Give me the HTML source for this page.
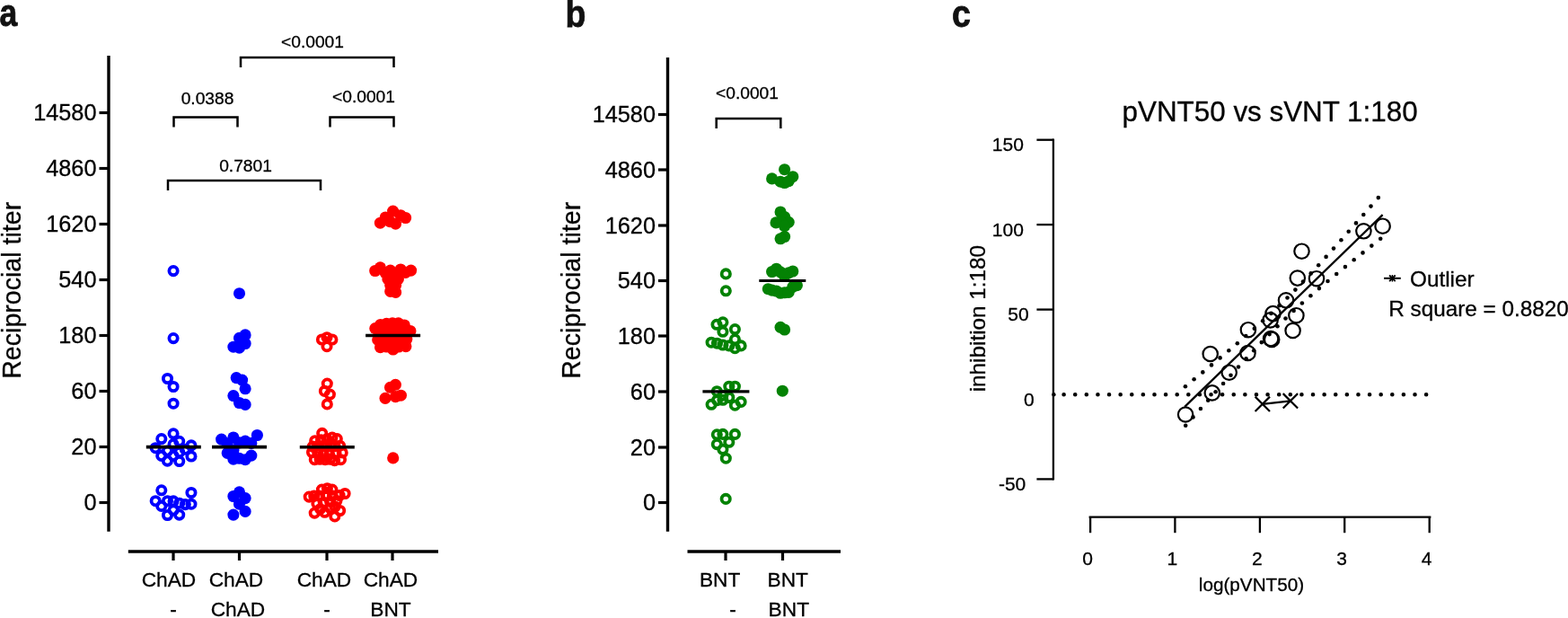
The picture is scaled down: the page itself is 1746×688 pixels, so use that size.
<!DOCTYPE html>
<html lang="en">
<head>
<meta charset="utf-8">
<title>Figure: reciprocal titers and pVNT50 vs sVNT correlation</title>
<style>
html,body{margin:0;padding:0;background:#fff;}
body{width:1746px;height:688px;overflow:hidden;}
svg{display:block;font-family:'Liberation Sans', Arial, Helvetica, sans-serif;}
text{stroke:#000;stroke-width:0.3px;}
.lbl{fill:#111;stroke:#111;stroke-width:0.7px;}

</style>
</head>
<body>
<svg width="1746" height="688" viewBox="0 0 1746 688">
<rect width="1746" height="688" fill="#fff"/>
<g id="panel-a">
<text transform="translate(-0.4,29.3) scale(1,1.2)" font-size="35.5" font-weight="bold" class="lbl">a</text>
<line x1="121" y1="62" x2="121" y2="591.8" stroke="#000" stroke-width="3.4" />
<line x1="110.5" y1="125.5" x2="121" y2="125.5" stroke="#000" stroke-width="3.2" />
<text x="107.5" y="134.1" font-size="25.3" text-anchor="end" font-weight="normal" >14580</text>
<line x1="110.5" y1="187.5" x2="121" y2="187.5" stroke="#000" stroke-width="3.2" />
<text x="107.5" y="196.1" font-size="25.3" text-anchor="end" font-weight="normal" >4860</text>
<line x1="110.5" y1="249.5" x2="121" y2="249.5" stroke="#000" stroke-width="3.2" />
<text x="107.5" y="258.1" font-size="25.3" text-anchor="end" font-weight="normal" >1620</text>
<line x1="110.5" y1="311.5" x2="121" y2="311.5" stroke="#000" stroke-width="3.2" />
<text x="107.5" y="320.1" font-size="25.3" text-anchor="end" font-weight="normal" >540</text>
<line x1="110.5" y1="373.5" x2="121" y2="373.5" stroke="#000" stroke-width="3.2" />
<text x="107.5" y="382.1" font-size="25.3" text-anchor="end" font-weight="normal" >180</text>
<line x1="110.5" y1="435.5" x2="121" y2="435.5" stroke="#000" stroke-width="3.2" />
<text x="107.5" y="444.1" font-size="25.3" text-anchor="end" font-weight="normal" >60</text>
<line x1="110.5" y1="497.5" x2="121" y2="497.5" stroke="#000" stroke-width="3.2" />
<text x="107.5" y="506.1" font-size="25.3" text-anchor="end" font-weight="normal" >20</text>
<line x1="110.5" y1="559.5" x2="121" y2="559.5" stroke="#000" stroke-width="3.2" />
<text x="107.5" y="568.1" font-size="25.3" text-anchor="end" font-weight="normal" >0</text>
<text transform="translate(23.2,323.3) rotate(-90)" font-size="28.6" text-anchor="middle">Reciprocial titer</text>
<line x1="142.8" y1="613.9" x2="488" y2="613.9" stroke="#000" stroke-width="3.5" />
<line x1="193" y1="613.9" x2="193" y2="624" stroke="#000" stroke-width="3.2" />
<line x1="266.5" y1="613.9" x2="266.5" y2="624" stroke="#000" stroke-width="3.2" />
<line x1="364" y1="613.9" x2="364" y2="624" stroke="#000" stroke-width="3.2" />
<line x1="437" y1="613.9" x2="437" y2="624" stroke="#000" stroke-width="3.2" />
<text x="188" y="652.6" font-size="22.7" text-anchor="middle" font-weight="normal" >ChAD</text>
<text x="263" y="652.6" font-size="22.7" text-anchor="middle" font-weight="normal" >ChAD</text>
<text x="361" y="652.6" font-size="22.7" text-anchor="middle" font-weight="normal" >ChAD</text>
<text x="435" y="652.6" font-size="22.7" text-anchor="middle" font-weight="normal" >ChAD</text>
<text x="193" y="686.4" font-size="22.7" text-anchor="middle" font-weight="normal" >-</text>
<text x="265" y="686.4" font-size="22.7" text-anchor="middle" font-weight="normal" >ChAD</text>
<text x="364" y="686.4" font-size="22.7" text-anchor="middle" font-weight="normal" >-</text>
<text x="435" y="686.4" font-size="22.7" text-anchor="middle" font-weight="normal" >BNT</text>
<path d="M268 75V64H438.5V75" fill="none" stroke="#000" stroke-width="2.5" stroke-linejoin="miter"/>
<text x="348" y="53.1" font-size="19.2" text-anchor="middle" font-weight="normal" >&lt;0.0001</text>
<path d="M193.5 141.5V130.5H264.5V141.5" fill="none" stroke="#000" stroke-width="2.5" stroke-linejoin="miter"/>
<text x="231" y="116.3" font-size="19.2" text-anchor="middle" font-weight="normal" >0.0388</text>
<path d="M367.5 141.5V130.5H438.5V141.5" fill="none" stroke="#000" stroke-width="2.5" stroke-linejoin="miter"/>
<text x="405" y="114.1" font-size="19.2" text-anchor="middle" font-weight="normal" >&lt;0.0001</text>
<path d="M187 212V201H357V212" fill="none" stroke="#000" stroke-width="2.5" stroke-linejoin="miter"/>
<text x="273.5" y="190.5" font-size="19.2" text-anchor="middle" font-weight="normal" >0.7801</text>
<g fill="none" stroke="#0000ff" stroke-width="3.8">
<circle cx="193.07" cy="301.6" r="4.65"/>
<circle cx="193.07" cy="376.6" r="4.65"/>
<circle cx="186.5" cy="421.5" r="4.65"/>
<circle cx="193.07" cy="430.5" r="4.65"/>
<circle cx="193.07" cy="449.2" r="4.65"/>
<circle cx="193.07" cy="482.8" r="4.65"/>
<circle cx="179.8" cy="488.6" r="4.65"/>
<circle cx="199.7" cy="491.3" r="4.65"/>
<circle cx="193.07" cy="494.6" r="4.65"/>
<circle cx="212.95" cy="495.9" r="4.65"/>
<circle cx="173.2" cy="498.7" r="4.65"/>
<circle cx="206.3" cy="500.2" r="4.65"/>
<circle cx="186.4" cy="502.1" r="4.65"/>
<circle cx="199.7" cy="503.4" r="4.65"/>
<circle cx="179.8" cy="507.4" r="4.65"/>
<circle cx="193.07" cy="507.4" r="4.65"/>
<circle cx="212.95" cy="508" r="4.65"/>
<circle cx="186.4" cy="513.1" r="4.65"/>
<circle cx="199.7" cy="513.5" r="4.65"/>
<circle cx="179.8" cy="545.8" r="4.65"/>
<circle cx="212.95" cy="548.5" r="4.65"/>
<circle cx="173.2" cy="557.7" r="4.65"/>
<circle cx="186.5" cy="557.7" r="4.65"/>
<circle cx="193.07" cy="557.9" r="4.65"/>
<circle cx="199.7" cy="560.2" r="4.65"/>
<circle cx="206.3" cy="561.6" r="4.65"/>
<circle cx="212.95" cy="561.2" r="4.65"/>
<circle cx="179.8" cy="563.4" r="4.65"/>
<circle cx="193.07" cy="568" r="4.65"/>
<circle cx="186.5" cy="573.5" r="4.65"/>
<circle cx="199.7" cy="573.1" r="4.65"/>
</g>
<g fill="#0000ff">
<circle cx="266.5" cy="326.7" r="6.55"/>
<circle cx="273.1" cy="372.9" r="6.55"/>
<circle cx="266.5" cy="376.4" r="6.55"/>
<circle cx="273.1" cy="382.5" r="6.55"/>
<circle cx="259.9" cy="386.2" r="6.55"/>
<circle cx="266.5" cy="387.1" r="6.55"/>
<circle cx="263.2" cy="420.6" r="6.55"/>
<circle cx="269.6" cy="423.1" r="6.55"/>
<circle cx="273.1" cy="432.8" r="6.55"/>
<circle cx="259.9" cy="440.6" r="6.55"/>
<circle cx="266.5" cy="448.5" r="6.55"/>
<circle cx="273.1" cy="450.4" r="6.55"/>
<circle cx="286.4" cy="484.5" r="6.55"/>
<circle cx="246.6" cy="489.1" r="6.55"/>
<circle cx="259.9" cy="487" r="6.55"/>
<circle cx="273.1" cy="491.1" r="6.55"/>
<circle cx="266.5" cy="492.9" r="6.55"/>
<circle cx="279.8" cy="493.4" r="6.55"/>
<circle cx="253.2" cy="493.8" r="6.55"/>
<circle cx="253.2" cy="504.4" r="6.55"/>
<circle cx="259.9" cy="501.2" r="6.55"/>
<circle cx="279.8" cy="507.1" r="6.55"/>
<circle cx="259.9" cy="511.2" r="6.55"/>
<circle cx="273.1" cy="511.7" r="6.55"/>
<circle cx="266.5" cy="510.3" r="6.55"/>
<circle cx="266.5" cy="547.9" r="6.55"/>
<circle cx="259.9" cy="552.5" r="6.55"/>
<circle cx="273.1" cy="554.6" r="6.55"/>
<circle cx="266.5" cy="561.2" r="6.55"/>
<circle cx="273.1" cy="569.4" r="6.55"/>
<circle cx="259.9" cy="573.1" r="6.55"/>
</g>
<g fill="none" stroke="#ff0000" stroke-width="3.8">
<circle cx="364" cy="375.7" r="4.65"/>
<circle cx="358.4" cy="378" r="4.65"/>
<circle cx="369.9" cy="378" r="4.65"/>
<circle cx="364" cy="385.7" r="4.65"/>
<circle cx="364.3" cy="427.1" r="4.65"/>
<circle cx="361.4" cy="435.4" r="4.65"/>
<circle cx="367.4" cy="439.1" r="4.65"/>
<circle cx="364.3" cy="449.9" r="4.65"/>
<circle cx="358.7" cy="482.4" r="4.65"/>
<circle cx="369.9" cy="487.1" r="4.65"/>
<circle cx="375.3" cy="488.6" r="4.65"/>
<circle cx="350.7" cy="490.7" r="4.65"/>
<circle cx="357.5" cy="489.7" r="4.65"/>
<circle cx="363.9" cy="488.8" r="4.65"/>
<circle cx="378.5" cy="496.2" r="4.65"/>
<circle cx="348.3" cy="497.1" r="4.65"/>
<circle cx="354.7" cy="496.2" r="4.65"/>
<circle cx="361.2" cy="496.6" r="4.65"/>
<circle cx="367.6" cy="495.2" r="4.65"/>
<circle cx="373.1" cy="496.6" r="4.65"/>
<circle cx="347.5" cy="503.5" r="4.65"/>
<circle cx="381.2" cy="503.9" r="4.65"/>
<circle cx="353.8" cy="504.4" r="4.65"/>
<circle cx="360.2" cy="505.3" r="4.65"/>
<circle cx="366.7" cy="505.8" r="4.65"/>
<circle cx="374" cy="504.4" r="4.65"/>
<circle cx="350.3" cy="511.7" r="4.65"/>
<circle cx="356.1" cy="511.3" r="4.65"/>
<circle cx="362.1" cy="511.7" r="4.65"/>
<circle cx="367.6" cy="511.3" r="4.65"/>
<circle cx="372.6" cy="512.6" r="4.65"/>
<circle cx="379.5" cy="511.7" r="4.65"/>
<circle cx="344.2" cy="553.1" r="4.65"/>
<circle cx="349.7" cy="552" r="4.65"/>
<circle cx="358.4" cy="545.1" r="4.65"/>
<circle cx="364.4" cy="543.7" r="4.65"/>
<circle cx="369.9" cy="545.1" r="4.65"/>
<circle cx="384.1" cy="549.5" r="4.65"/>
<circle cx="378.1" cy="551.5" r="4.65"/>
<circle cx="355.7" cy="552" r="4.65"/>
<circle cx="363" cy="552" r="4.65"/>
<circle cx="370.3" cy="552" r="4.65"/>
<circle cx="352.9" cy="560.7" r="4.65"/>
<circle cx="360.2" cy="559.3" r="4.65"/>
<circle cx="367.6" cy="558.4" r="4.65"/>
<circle cx="374.9" cy="557.5" r="4.65"/>
<circle cx="350.2" cy="571.1" r="4.65"/>
<circle cx="356.6" cy="566.7" r="4.65"/>
<circle cx="361.6" cy="570.3" r="4.65"/>
<circle cx="367.6" cy="565.7" r="4.65"/>
<circle cx="378.6" cy="568.5" r="4.65"/>
<circle cx="372.8" cy="574.9" r="4.65"/>
<circle cx="373" cy="564" r="4.65"/>
</g>
<g fill="#ff0000">
<circle cx="437.6" cy="235.1" r="6.55"/>
<circle cx="429.2" cy="242" r="6.55"/>
<circle cx="446.1" cy="239.7" r="6.55"/>
<circle cx="451.6" cy="242.5" r="6.55"/>
<circle cx="423.4" cy="248.2" r="6.55"/>
<circle cx="434.2" cy="246.6" r="6.55"/>
<circle cx="440.5" cy="249.1" r="6.55"/>
<circle cx="417.7" cy="301.5" r="6.55"/>
<circle cx="423.4" cy="297.9" r="6.55"/>
<circle cx="434.7" cy="301.1" r="6.55"/>
<circle cx="446.1" cy="300" r="6.55"/>
<circle cx="457.6" cy="301.1" r="6.55"/>
<circle cx="451.6" cy="303.4" r="6.55"/>
<circle cx="429.2" cy="303.8" r="6.55"/>
<circle cx="431.9" cy="310.7" r="6.55"/>
<circle cx="443.4" cy="310.7" r="6.55"/>
<circle cx="437.6" cy="307.5" r="6.55"/>
<circle cx="434.7" cy="317.6" r="6.55"/>
<circle cx="440.6" cy="317.6" r="6.55"/>
<circle cx="434.7" cy="324.4" r="6.55"/>
<circle cx="440.6" cy="325.4" r="6.55"/>
<circle cx="437.6" cy="313.9" r="6.55"/>
<circle cx="423.7" cy="361.5" r="6.55"/>
<circle cx="430.4" cy="360.3" r="6.55"/>
<circle cx="437" cy="359.8" r="6.55"/>
<circle cx="443.6" cy="359.8" r="6.55"/>
<circle cx="450.3" cy="362" r="6.55"/>
<circle cx="417.8" cy="365.6" r="6.55"/>
<circle cx="456.9" cy="368.5" r="6.55"/>
<circle cx="423.7" cy="370" r="6.55"/>
<circle cx="430.4" cy="369" r="6.55"/>
<circle cx="437" cy="368" r="6.55"/>
<circle cx="450.3" cy="371" r="6.55"/>
<circle cx="442.5" cy="367.5" r="6.55"/>
<circle cx="420.7" cy="378.4" r="6.55"/>
<circle cx="430.4" cy="378" r="6.55"/>
<circle cx="437" cy="377" r="6.55"/>
<circle cx="443.6" cy="378" r="6.55"/>
<circle cx="452.8" cy="377.5" r="6.55"/>
<circle cx="423.5" cy="386.7" r="6.55"/>
<circle cx="430.4" cy="386" r="6.55"/>
<circle cx="437.7" cy="389" r="6.55"/>
<circle cx="444" cy="386" r="6.55"/>
<circle cx="451.9" cy="385.7" r="6.55"/>
<circle cx="440.4" cy="428.3" r="6.55"/>
<circle cx="434.5" cy="431.3" r="6.55"/>
<circle cx="446.4" cy="440.2" r="6.55"/>
<circle cx="440.4" cy="441.6" r="6.55"/>
<circle cx="429" cy="443.4" r="6.55"/>
<circle cx="437.7" cy="509.9" r="6.55"/>
</g>
<line x1="162.8" y1="497.6" x2="223.8" y2="497.6" stroke="#000" stroke-width="3.6" />
<line x1="236.0" y1="497.6" x2="297.0" y2="497.6" stroke="#000" stroke-width="3.6" />
<line x1="333.8" y1="497.7" x2="394.8" y2="497.7" stroke="#000" stroke-width="3.6" />
<line x1="407.1" y1="373.5" x2="468.1" y2="373.5" stroke="#000" stroke-width="3.6" />
</g>
<g id="panel-b">
<text transform="translate(629.6,29.8) scale(1,1.11)" font-size="37.5" font-weight="bold" class="lbl">b</text>
<line x1="743.5" y1="64" x2="743.5" y2="591.8" stroke="#000" stroke-width="3.4" />
<line x1="733.0" y1="127.5" x2="743.5" y2="127.5" stroke="#000" stroke-width="3.2" />
<text x="730.0" y="136.1" font-size="25.3" text-anchor="end" font-weight="normal" >14580</text>
<line x1="733.0" y1="189" x2="743.5" y2="189" stroke="#000" stroke-width="3.2" />
<text x="730.0" y="197.6" font-size="25.3" text-anchor="end" font-weight="normal" >4860</text>
<line x1="733.0" y1="251" x2="743.5" y2="251" stroke="#000" stroke-width="3.2" />
<text x="730.0" y="259.6" font-size="25.3" text-anchor="end" font-weight="normal" >1620</text>
<line x1="733.0" y1="312.5" x2="743.5" y2="312.5" stroke="#000" stroke-width="3.2" />
<text x="730.0" y="321.1" font-size="25.3" text-anchor="end" font-weight="normal" >540</text>
<line x1="733.0" y1="374" x2="743.5" y2="374" stroke="#000" stroke-width="3.2" />
<text x="730.0" y="382.6" font-size="25.3" text-anchor="end" font-weight="normal" >180</text>
<line x1="733.0" y1="436" x2="743.5" y2="436" stroke="#000" stroke-width="3.2" />
<text x="730.0" y="444.6" font-size="25.3" text-anchor="end" font-weight="normal" >60</text>
<line x1="733.0" y1="498" x2="743.5" y2="498" stroke="#000" stroke-width="3.2" />
<text x="730.0" y="506.6" font-size="25.3" text-anchor="end" font-weight="normal" >20</text>
<line x1="733.0" y1="559.5" x2="743.5" y2="559.5" stroke="#000" stroke-width="3.2" />
<text x="730.0" y="568.1" font-size="25.3" text-anchor="end" font-weight="normal" >0</text>
<text transform="translate(646,323.3) rotate(-90)" font-size="28.6" text-anchor="middle">Reciprocial titer</text>
<line x1="765.5" y1="613.9" x2="936" y2="613.9" stroke="#000" stroke-width="3.5" />
<line x1="808" y1="613.9" x2="808" y2="624" stroke="#000" stroke-width="3.2" />
<line x1="871.5" y1="613.9" x2="871.5" y2="624" stroke="#000" stroke-width="3.2" />
<text x="801.6" y="652.6" font-size="22.7" text-anchor="middle" font-weight="normal" >BNT</text>
<text x="877.2" y="652.6" font-size="22.7" text-anchor="middle" font-weight="normal" >BNT</text>
<text x="816" y="686.4" font-size="22.7" text-anchor="middle" font-weight="normal" >-</text>
<text x="878.3" y="686.4" font-size="22.7" text-anchor="middle" font-weight="normal" >BNT</text>
<path d="M797.7 143V132H869.3V143" fill="none" stroke="#000" stroke-width="2.5" stroke-linejoin="miter"/>
<text x="832" y="110" font-size="19.2" text-anchor="middle" font-weight="normal" >&lt;0.0001</text>
<g fill="none" stroke="#048204" stroke-width="3.8">
<circle cx="808.3" cy="304.9" r="4.65"/>
<circle cx="808.3" cy="323.8" r="4.65"/>
<circle cx="804.9" cy="358.8" r="4.65"/>
<circle cx="798" cy="361.3" r="4.65"/>
<circle cx="818.4" cy="366.6" r="4.65"/>
<circle cx="804.9" cy="369.3" r="4.65"/>
<circle cx="818.4" cy="377.8" r="4.65"/>
<circle cx="792.1" cy="381.2" r="4.65"/>
<circle cx="798.5" cy="382.2" r="4.65"/>
<circle cx="804.9" cy="384" r="4.65"/>
<circle cx="811.8" cy="384.9" r="4.65"/>
<circle cx="818.4" cy="387.7" r="4.65"/>
<circle cx="825.1" cy="384.9" r="4.65"/>
<circle cx="811.8" cy="430.2" r="4.65"/>
<circle cx="818.4" cy="430.2" r="4.65"/>
<circle cx="798.3" cy="435.7" r="4.65"/>
<circle cx="804.9" cy="440.2" r="4.65"/>
<circle cx="811.8" cy="442.5" r="4.65"/>
<circle cx="798.5" cy="445.7" r="4.65"/>
<circle cx="804.9" cy="445.3" r="4.65"/>
<circle cx="792.1" cy="450.3" r="4.65"/>
<circle cx="825.1" cy="447.4" r="4.65"/>
<circle cx="818.4" cy="451.2" r="4.65"/>
<circle cx="798.3" cy="483.8" r="4.65"/>
<circle cx="804.9" cy="483.4" r="4.65"/>
<circle cx="818.4" cy="483.4" r="4.65"/>
<circle cx="798.3" cy="494.6" r="4.65"/>
<circle cx="811.8" cy="492.3" r="4.65"/>
<circle cx="804.9" cy="500.3" r="4.65"/>
<circle cx="808.3" cy="510.2" r="4.65"/>
<circle cx="808.2" cy="555.4" r="4.65"/>
</g>
<g fill="#048204">
<circle cx="873.6" cy="188.7" r="6.55"/>
<circle cx="859.6" cy="198.9" r="6.55"/>
<circle cx="882.8" cy="196.7" r="6.55"/>
<circle cx="869" cy="202.2" r="6.55"/>
<circle cx="873.6" cy="203.5" r="6.55"/>
<circle cx="878.2" cy="201.7" r="6.55"/>
<circle cx="869.05" cy="236" r="6.55"/>
<circle cx="873.6" cy="241.5" r="6.55"/>
<circle cx="864" cy="247.9" r="6.55"/>
<circle cx="878.2" cy="247.3" r="6.55"/>
<circle cx="869.05" cy="246.6" r="6.55"/>
<circle cx="873.6" cy="251.6" r="6.55"/>
<circle cx="873.6" cy="263.5" r="6.55"/>
<circle cx="869.05" cy="265.8" r="6.55"/>
<circle cx="859.6" cy="302.5" r="6.55"/>
<circle cx="864.5" cy="299.2" r="6.55"/>
<circle cx="869" cy="302.9" r="6.55"/>
<circle cx="873.6" cy="305.2" r="6.55"/>
<circle cx="878.2" cy="303.8" r="6.55"/>
<circle cx="882.8" cy="302" r="6.55"/>
<circle cx="873.6" cy="307.3" r="6.55"/>
<circle cx="855.3" cy="321.7" r="6.55"/>
<circle cx="859.6" cy="323.1" r="6.55"/>
<circle cx="864.5" cy="324" r="6.55"/>
<circle cx="869" cy="326.3" r="6.55"/>
<circle cx="873.6" cy="325.8" r="6.55"/>
<circle cx="878.2" cy="325.4" r="6.55"/>
<circle cx="882.8" cy="319.4" r="6.55"/>
<circle cx="887.4" cy="317.6" r="6.55"/>
<circle cx="869.05" cy="364.3" r="6.55"/>
<circle cx="873.6" cy="367" r="6.55"/>
<circle cx="871.3" cy="435.2" r="6.55"/>
</g>
<line x1="782.4" y1="435.9" x2="834.4" y2="435.9" stroke="#000" stroke-width="3.2" />
<line x1="845.3" y1="312.5" x2="897.3" y2="312.5" stroke="#000" stroke-width="3.2" />
</g>
<g id="panel-c">
<text transform="translate(1060.0,29.9) scale(1,1.115)" font-size="37.7" font-weight="bold" class="lbl">c</text>
<text x="1414.1" y="134.8" font-size="31.4" text-anchor="middle" font-weight="normal" >pVNT50 vs sVNT 1:180</text>
<line x1="1172.9" y1="154.5" x2="1172.9" y2="534.6" stroke="#000" stroke-width="2.3" />
<line x1="1154.4" y1="155.7" x2="1172.9" y2="155.7" stroke="#000" stroke-width="2.3" />
<text x="1139.9" y="168.1" font-size="21" text-anchor="end" font-weight="normal" >150</text>
<line x1="1154.4" y1="250.1" x2="1172.9" y2="250.1" stroke="#000" stroke-width="2.3" />
<text x="1139.9" y="262.5" font-size="21" text-anchor="end" font-weight="normal" >100</text>
<line x1="1154.4" y1="344.6" x2="1172.9" y2="344.6" stroke="#000" stroke-width="2.3" />
<text x="1145.6" y="357.0" font-size="21" text-anchor="end" font-weight="normal" >50</text>
<text x="1151.8" y="451.7" font-size="21" text-anchor="end" font-weight="normal" >0</text>
<line x1="1154.4" y1="533.4" x2="1172.9" y2="533.4" stroke="#000" stroke-width="2.3" />
<text x="1142.3" y="545.8" font-size="21" text-anchor="end" font-weight="normal" >-50</text>
<text transform="translate(1096.9,354.6) rotate(-90)" font-size="24.3" text-anchor="middle">inhibition 1:180</text>
<line x1="1212.6" y1="575.6" x2="1593.4" y2="575.6" stroke="#000" stroke-width="2.3" />
<line x1="1214.1" y1="575.6" x2="1214.1" y2="593.2" stroke="#000" stroke-width="2.3" />
<text x="1211.1" y="629.3" font-size="21" text-anchor="middle" font-weight="normal" >0</text>
<line x1="1308.4" y1="575.6" x2="1308.4" y2="593.2" stroke="#000" stroke-width="2.3" />
<text x="1305.4" y="629.3" font-size="21" text-anchor="middle" font-weight="normal" >1</text>
<line x1="1402.9" y1="575.6" x2="1402.9" y2="593.2" stroke="#000" stroke-width="2.3" />
<text x="1399.9" y="629.3" font-size="21" text-anchor="middle" font-weight="normal" >2</text>
<line x1="1497.2" y1="575.6" x2="1497.2" y2="593.2" stroke="#000" stroke-width="2.3" />
<text x="1494.2" y="629.3" font-size="21" text-anchor="middle" font-weight="normal" >3</text>
<line x1="1591.7" y1="575.6" x2="1591.7" y2="593.2" stroke="#000" stroke-width="2.3" />
<text x="1588.7" y="629.3" font-size="21" text-anchor="middle" font-weight="normal" >4</text>
<text x="1393.5" y="658.3" font-size="20.7" text-anchor="middle" font-weight="normal" >log(pVNT50)</text>
<line x1="1184.6" y1="439.3" x2="1592" y2="439.3" stroke="#000" stroke-width="4.6" stroke-linecap="round" stroke-dasharray="0.01 12.6"/>
<circle cx="1173.4" cy="439.3" r="2.2" fill="#000"/>
<g fill="#000">
<circle cx="1534.8" cy="220.1" r="2.3"/>
<circle cx="1526.5" cy="229.6" r="2.3"/>
<circle cx="1518.3" cy="239.0" r="2.3"/>
<circle cx="1510.0" cy="248.4" r="2.3"/>
<circle cx="1501.7" cy="257.8" r="2.3"/>
<circle cx="1493.4" cy="267.2" r="2.3"/>
<circle cx="1485.0" cy="276.6" r="2.3"/>
<circle cx="1476.6" cy="285.9" r="2.3"/>
<circle cx="1468.2" cy="295.2" r="2.3"/>
<circle cx="1459.7" cy="304.4" r="2.3"/>
<circle cx="1451.0" cy="313.6" r="2.3"/>
<circle cx="1442.4" cy="322.6" r="2.3"/>
<circle cx="1433.5" cy="331.5" r="2.3"/>
<circle cx="1424.5" cy="340.2" r="2.3"/>
<circle cx="1415.4" cy="348.9" r="2.3"/>
<circle cx="1406.1" cy="357.3" r="2.3"/>
<circle cx="1396.8" cy="365.7" r="2.3"/>
<circle cx="1387.3" cy="374.0" r="2.3"/>
<circle cx="1377.8" cy="382.2" r="2.3"/>
<circle cx="1368.3" cy="390.3" r="2.3"/>
<circle cx="1358.6" cy="398.4" r="2.3"/>
<circle cx="1349.0" cy="406.4" r="2.3"/>
<circle cx="1339.3" cy="414.4" r="2.3"/>
<circle cx="1329.6" cy="422.3" r="2.3"/>
<circle cx="1319.9" cy="430.2" r="2.3"/>
<circle cx="1537.2" cy="265.8" r="2.3"/>
<circle cx="1527.3" cy="273.6" r="2.3"/>
<circle cx="1517.5" cy="281.4" r="2.3"/>
<circle cx="1507.7" cy="289.2" r="2.3"/>
<circle cx="1497.9" cy="297.1" r="2.3"/>
<circle cx="1488.2" cy="305.0" r="2.3"/>
<circle cx="1478.5" cy="313.0" r="2.3"/>
<circle cx="1468.9" cy="321.1" r="2.3"/>
<circle cx="1459.4" cy="329.2" r="2.3"/>
<circle cx="1449.9" cy="337.5" r="2.3"/>
<circle cx="1440.6" cy="345.9" r="2.3"/>
<circle cx="1431.5" cy="354.5" r="2.3"/>
<circle cx="1422.5" cy="363.2" r="2.3"/>
<circle cx="1413.6" cy="372.1" r="2.3"/>
<circle cx="1404.8" cy="381.1" r="2.3"/>
<circle cx="1396.2" cy="390.2" r="2.3"/>
<circle cx="1387.6" cy="399.3" r="2.3"/>
<circle cx="1379.0" cy="408.5" r="2.3"/>
<circle cx="1370.5" cy="417.8" r="2.3"/>
<circle cx="1362.1" cy="427.0" r="2.3"/>
<circle cx="1353.6" cy="436.3" r="2.3"/>
<circle cx="1345.2" cy="445.7" r="2.3"/>
<circle cx="1336.9" cy="455.0" r="2.3"/>
<circle cx="1328.5" cy="464.4" r="2.3"/>
<circle cx="1320.2" cy="473.7" r="2.3"/>
</g>
<line x1="1319.2" y1="452.8" x2="1539.6" y2="239.2" stroke="#000" stroke-width="2.3" />
<g fill="none" stroke="#000" stroke-width="2.2">
<circle cx="1539.6" cy="251.7" r="8.2"/>
<circle cx="1518.4" cy="257.3" r="8.2"/>
<circle cx="1449.5" cy="279.7" r="8.2"/>
<circle cx="1444.8" cy="309.6" r="8.2"/>
<circle cx="1466" cy="310.2" r="8.2"/>
<circle cx="1432" cy="334.3" r="8.2"/>
<circle cx="1417.5" cy="349.1" r="8.2"/>
<circle cx="1414.6" cy="356.4" r="8.2"/>
<circle cx="1443.4" cy="351.2" r="8.2"/>
<circle cx="1439.6" cy="368" r="8.2"/>
<circle cx="1389.9" cy="367.2" r="8.2"/>
<circle cx="1415.1" cy="377.1" r="8.2"/>
<circle cx="1416.2" cy="377.9" r="8.2"/>
<circle cx="1389.5" cy="393" r="8.2"/>
<circle cx="1347.7" cy="394" r="8.2"/>
<circle cx="1368.7" cy="414.7" r="8.2"/>
<circle cx="1349.8" cy="437.4" r="8.2"/>
<circle cx="1320.1" cy="461.5" r="8.2"/>
</g>
<path d="M1397.6 441.6L1414.0 458.0M1397.6 458.0L1414.0 441.6" stroke="#000" stroke-width="2.2" fill="none"/>
<path d="M1428.7 438.1L1445.1000000000001 454.5M1428.7 454.5L1445.1000000000001 438.1" stroke="#000" stroke-width="2.2" fill="none"/>
<line x1="1405.8" y1="449.8" x2="1436.9" y2="446.3" stroke="#000" stroke-width="2.2" />
<line x1="1541.0" y1="309.8" x2="1559.8000000000002" y2="309.8" stroke="#000" stroke-width="2" />
<path d="M1547.1000000000001 306.5L1553.7 313.1M1547.1000000000001 313.1L1553.7 306.5" stroke="#000" stroke-width="1.9" fill="none"/>
<line x1="1550.4" y1="306.0" x2="1550.4" y2="313.6" stroke="#000" stroke-width="1.4" />
<text x="1570.0" y="319.2" font-size="24.3" text-anchor="start" font-weight="normal" >Outlier</text>
<text x="1546.2" y="351.6" font-size="24.3" text-anchor="start" font-weight="normal" >R square = 0.8820</text>
</g>
</svg>
</body>
</html>
